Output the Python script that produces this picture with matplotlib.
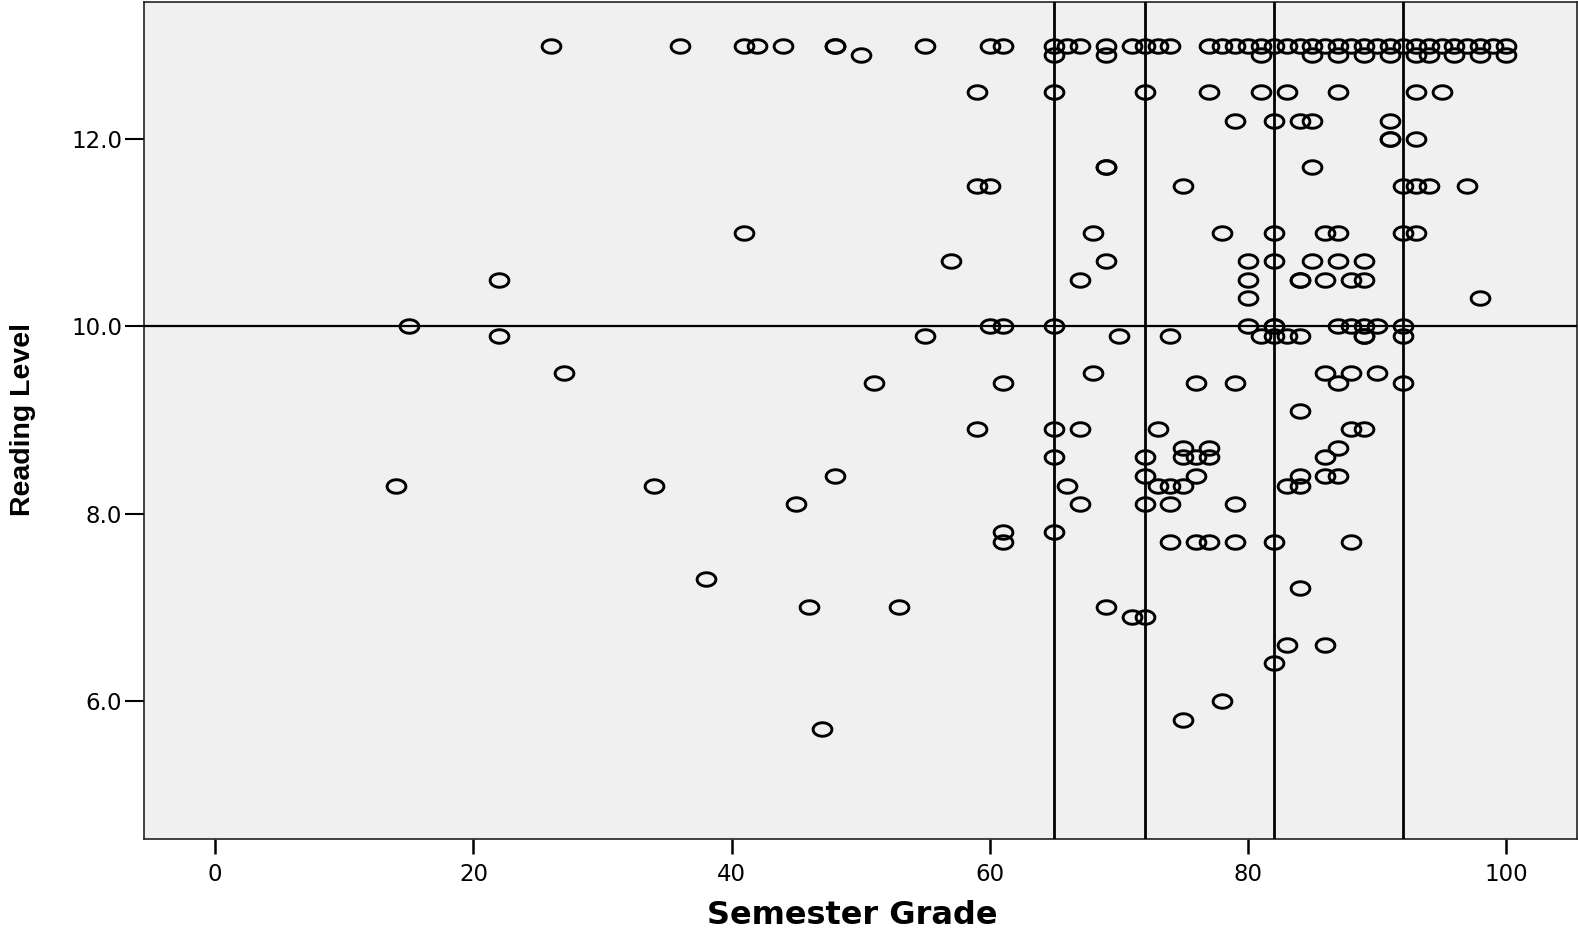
import numpy as np
import matplotlib
matplotlib.use("Agg")
import matplotlib.pyplot as plt
from matplotlib.path import Path
from matplotlib import font_manager

# reading level rows and the semester grades that sit on each row
levels = [13.0, 12.9, 12.5, 12.2, 12.0, 11.7, 11.5, 11.0, 10.7, 10.5, 10.3,
          10.0, 9.9, 9.5, 9.4, 9.1, 8.9, 8.7, 8.6, 8.4, 8.3, 8.1, 7.8, 7.7,
          7.3, 7.2, 7.0, 6.9, 6.6, 6.4, 6.0, 5.8, 5.7]
grades = [
    [26, 36, 41, 42, 44, 48, 48, 55, 60, 61, 65, 66, 67, 69, 71, 72, 73, 74,
     77, 78, 79, 80, 81, 82, 83, 84, 85, 86, 87, 88, 89, 90, 91, 92, 93, 94,
     95, 96, 97, 98, 99, 100],
    [50, 65, 69, 81, 85, 87, 89, 91, 93, 94, 96, 98, 100],
    [59, 65, 72, 77, 81, 83, 87, 93, 95],
    [79, 82, 84, 85, 91],
    [91, 91, 93],
    [69, 69, 85],
    [59, 60, 75, 92, 93, 94, 97],
    [41, 68, 78, 82, 86, 87, 92, 93],
    [57, 69, 80, 82, 85, 87, 89],
    [22, 67, 80, 84, 84, 86, 88, 89],
    [80, 98],
    [15, 60, 61, 65, 80, 82, 82, 87, 88, 89, 90, 92],
    [22, 55, 70, 74, 81, 82, 83, 84, 89, 89, 92],
    [27, 68, 86, 88, 90],
    [51, 61, 76, 79, 87, 92],
    [84],
    [59, 65, 67, 73, 88, 89],
    [75, 77, 87],
    [65, 72, 75, 76, 77, 86],
    [48, 72, 76, 84, 86, 87],
    [14, 34, 66, 73, 74, 75, 83, 84],
    [45, 67, 72, 74, 79],
    [61, 65],
    [61, 74, 76, 77, 79, 82, 88],
    [38],
    [84],
    [46, 53, 69],
    [71, 72],
    [83, 86],
    [82],
    [78],
    [75],
    [47],
]

ref_grades = [65, 72, 82, 92]
ref_level = 10.0
x_ticks = [0, 20, 40, 60, 80, 100]
y_ticks = [6.0, 8.0, 10.0, 12.0]

x = []
y = []
for lvl, row in zip(levels, grades):
    x.extend(row)
    y.extend([lvl] * len(row))

# SPSS draws flattened circles
t = np.linspace(0, 2 * np.pi, 64)
ellipse = Path(np.column_stack([np.cos(t), 0.72 * np.sin(t)]), closed=True)

# condensed bold for the y label if the narrow face is there
try:
    font_manager.findfont(font_manager.FontProperties(family="Liberation Sans Narrow",
                                                      weight="bold"),
                          fallback_to_default=False)
    ylab_font, ylab_size = "Liberation Sans Narrow", 25
except ValueError:
    ylab_font, ylab_size = "Liberation Sans", 20.5

fig = plt.figure(figsize=(15.78, 9.31), dpi=100)
ax = fig.add_axes([0.0914, 0.0985, 0.908, 0.8997])
ax.set_facecolor("#f0f0f0")

ax.plot(x, y, ls="none", marker=ellipse, ms=13.5, mfc="none", mec="black",
        mew=2.1, zorder=2)

for g in ref_grades:
    ax.axvline(g, color="black", lw=2.0, zorder=3)
ax.axhline(ref_level, color="black", lw=1.6, zorder=3)

ax.set_xlim(-5.5, 105.5)
ax.set_ylim(4.52, 13.47)

ax.set_xticks(x_ticks)
ax.set_xticklabels([str(v) for v in x_ticks])
ax.set_yticks(y_ticks)
ax.set_yticklabels([f"{v:.1f}" for v in y_ticks])
ax.tick_params(axis="x", length=11, width=1.8, pad=6, labelsize=16.5)
ax.tick_params(axis="y", length=14, width=1.5, pad=2, labelsize=16.5)

for sp in ax.spines.values():
    sp.set_linewidth(1.2)
    sp.set_color("#222222")

fig.text(0.540, 0.017, "Semester Grade", ha="center", va="center",
         fontsize=23, fontweight="bold")
fig.text(0.0146, 0.549, "Reading Level", ha="center", va="center",
         rotation=90, fontsize=ylab_size, fontweight="bold", family=ylab_font)

fig.savefig("out.png", dpi=100)
